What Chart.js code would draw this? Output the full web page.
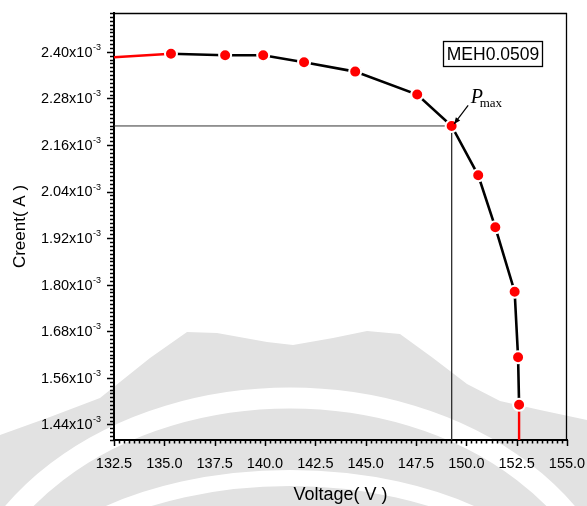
<!DOCTYPE html>
<html>
<head>
<meta charset="utf-8">
<script src="https://cdn.jsdelivr.net/npm/chart.js@4.4.0/dist/chart.umd.min.js"></script>
<style>
  html, body { margin: 0; padding: 0; background: #fff; }
  #wrap { width: 587px; height: 506px; }
</style>
</head>
<body>
<div id="wrap"><canvas id="c"></canvas></div>
<script>
// measured I-V points (current in units of 10^-3 A)
const voltage = [135.33, 138.02, 139.91, 141.94, 144.48, 147.56, 149.27, 150.59, 151.44, 152.40, 152.57, 152.62];
const current = [2.395, 2.391, 2.391, 2.373, 2.349, 2.290, 2.209, 2.082, 1.948, 1.782, 1.613, 1.491];

// red fitted ends of the curve
const fitLeftV = [132.5, 135.33];
const fitLeftI = [2.386, 2.395];
const fitTailV = [152.62, 152.62];
const fitTailI = [1.491, 1.40];

// maximum power point
const pmaxV = 149.27;
const pmaxI = 2.209;

const xTicks = [132.5, 135.0, 137.5, 140.0, 142.5, 145.0, 147.5, 150.0, 152.5, 155.0];
const yTicks = [1.44, 1.56, 1.68, 1.80, 1.92, 2.04, 2.16, 2.28, 2.40];
const xMin = 132.5, xMax = 155.0, yMin = 1.40, yMax = 2.50;
const sampleName = 'MEH0.0509';

const pts = (xs, ys) => xs.map((x, i) => ({ x, y: ys[i] }));
const SANS = '"Liberation Sans", Arial, sans-serif';
const SERIF = '"Liberation Serif", "Times New Roman", serif';

// faint grey watermark behind the figure
const watermark = {
  id: 'watermark',
  beforeDraw(chart) {
    const ctx = chart.ctx;
    ctx.save();
    ctx.fillStyle = '#e2e2e2';
    ctx.beginPath();
    const edge = [[0,435],[50,417],[100,398],[150,358],[187,332],[217,333],[267,342],[293,345],
                  [333,338],[367,331],[400,334],[433,358],[467,384],[500,401],[540,410],[587,420]];
    ctx.moveTo(edge[0][0], edge[0][1]);
    edge.forEach(p => ctx.lineTo(p[0], p[1]));
    ctx.lineTo(587, 506); ctx.lineTo(0, 506); ctx.closePath();
    ctx.fill();
    ctx.strokeStyle = '#ffffff';
    ctx.lineWidth = 21;
    ctx.beginPath();
    ctx.ellipse(290, 650, 330, 252, 0, Math.PI, 2 * Math.PI);
    ctx.stroke();
    ctx.lineWidth = 16;
    ctx.beginPath();
    ctx.ellipse(290, 640, 290, 162, 0, Math.PI, 2 * Math.PI);
    ctx.stroke();
    ctx.restore();
  }
};

// ticks, frame, y labels with superscript, annotations
const decor = {
  id: 'decor',
  afterDraw(chart) {
    const ctx = chart.ctx;
    const xs = chart.scales.x, ys = chart.scales.y;
    const a = chart.chartArea;
    ctx.save();
    ctx.strokeStyle = '#000';
    ctx.lineWidth = 1.3;
    // frame top / right
    ctx.beginPath();
    ctx.moveTo(a.left, a.top + 0.5); ctx.lineTo(a.right, a.top + 0.5);
    ctx.moveTo(a.right - 0.5, a.top); ctx.lineTo(a.right - 0.5, a.bottom);
    ctx.stroke();
    // x ticks
    ctx.lineWidth = 1.5;
    ctx.beginPath();
    for (let k = 0; k <= 90; k++) {
      const v = xMin + k * 0.25;
      const px = Math.round(xs.getPixelForValue(v)) + 0.5;
      const len = k % 10 === 0 ? 6 : 3.5;
      ctx.moveTo(px, a.bottom); ctx.lineTo(px, a.bottom + len);
    }
    // y ticks
    for (let k = 0; k <= 110; k++) {
      const v = yMin + k * 0.01;
      const py = Math.round(ys.getPixelForValue(v)) + 0.5;
      const len = (k - 4) % 12 === 0 ? 7 : 4;
      ctx.moveTo(a.left, py); ctx.lineTo(a.left - len, py);
    }
    ctx.stroke();
    // y labels
    ctx.fillStyle = '#000';
    ctx.textBaseline = 'middle';
    ctx.textAlign = 'left';
    yTicks.forEach(v => {
      const py = ys.getPixelForValue(v);
      ctx.font = '9px ' + SANS;
      const sup = '-3';
      const sw = ctx.measureText(sup).width;
      ctx.font = '14.5px ' + SANS;
      const main = v.toFixed(2) + 'x10';
      const mw = ctx.measureText(main).width;
      const right = 101;
      ctx.fillText(main, right - sw - mw - 0.5, py + 0.8);
      ctx.font = '9px ' + SANS;
      ctx.fillText(sup, right - sw, py - 4.5);
    });
    // sample box
    const bx = a.right - 124, by = a.top + 28, bw = 99, bh = 25;
    ctx.lineWidth = 1.3;
    ctx.strokeRect(bx + 0.5, by + 0.5, bw, bh);
    ctx.font = '17.5px ' + SANS;
    ctx.textAlign = 'center';
    ctx.fillText(sampleName, bx + bw / 2 + 0.5, by + bh / 2 + 1.5);
    // Pmax arrow + label
    const px = xs.getPixelForValue(pmaxV), py = ys.getPixelForValue(pmaxI);
    const sx = px + 16.5, sy = py - 20.5, ex = px + 2.5, ey = py - 2;
    ctx.lineWidth = 1.2;
    ctx.beginPath(); ctx.moveTo(sx, sy); ctx.lineTo(ex, ey); ctx.stroke();
    const ang = Math.atan2(ey - sy, ex - sx);
    ctx.beginPath();
    ctx.moveTo(ex, ey);
    ctx.lineTo(ex - 7 * Math.cos(ang - 0.4), ey - 7 * Math.sin(ang - 0.4));
    ctx.lineTo(ex - 7 * Math.cos(ang + 0.4), ey - 7 * Math.sin(ang + 0.4));
    ctx.closePath(); ctx.fill();
    ctx.textAlign = 'left';
    ctx.textBaseline = 'alphabetic';
    ctx.font = 'italic 20px ' + SERIF;
    ctx.fillText('P', px + 19, py - 23);
    ctx.font = '13px ' + SERIF;
    ctx.fillText('max', px + 28, py - 18.5);
    ctx.restore();
  }
};

new Chart(document.getElementById('c'), {
  type: 'scatter',
  data: {
    datasets: [
      {
        data: pts(voltage, current),
        showLine: true,
        borderColor: '#000',
        borderWidth: 2.6,
        pointRadius: 6,
        pointBorderWidth: 2,
        pointBackgroundColor: '#ff0000',
        pointBorderColor: '#ffffff',
        tension: 0
      },
      {
        data: pts(fitLeftV, fitLeftI),
        showLine: true, borderColor: '#ff0000', borderWidth: 2.4, pointRadius: 0
      },
      {
        data: pts(fitTailV, fitTailI),
        showLine: true, borderColor: '#ff0000', borderWidth: 2.4, pointRadius: 0
      },
      {
        data: [{ x: xMin, y: pmaxI }, { x: pmaxV, y: pmaxI }, { x: pmaxV, y: yMin }],
        showLine: true, borderColor: '#333', borderWidth: 1, pointRadius: 0
      }
    ]
  },
  options: {
    responsive: true,
    maintainAspectRatio: false,
    animation: false,
    layout: { padding: { top: 13, right: 20, left: 0, bottom: 0 } },
    plugins: { legend: { display: false }, tooltip: { enabled: false } },
    scales: {
      x: {
        type: 'linear', min: xMin, max: xMax,
        afterBuildTicks: s => { s.ticks = xTicks.map(v => ({ value: v })); },
        afterFit: s => { s.height = 66; s.paddingLeft = 0; s.paddingRight = 0; },
        grid: { display: false, drawTicks: false },
        border: { display: true, color: '#000', width: 2 },
        ticks: {
          autoSkip: false, maxRotation: 0, padding: 15, color: '#000',
          font: { family: SANS, size: 14.5 },
          callback: v => Number(v).toFixed(1)
        },
        title: {
          display: true, text: 'Voltage( V )', color: '#000',
          font: { family: SANS, size: 18 }, padding: { top: 0, bottom: 0 }
        }
      },
      y: {
        type: 'linear', min: yMin, max: yMax,
        afterBuildTicks: s => { s.ticks = yTicks.map(v => ({ value: v })); },
        afterFit: s => { s.width = 114; s.paddingTop = 0; s.paddingBottom = 0; },
        grid: { display: false, drawTicks: false },
        border: { display: true, color: '#000', width: 2 },
        ticks: { display: false },
        title: {
          display: true, text: 'Creent( A )', color: '#000',
          font: { family: SANS, size: 17 }, padding: { top: 10, bottom: 0 }
        }
      }
    }
  },
  plugins: [watermark, decor]
});
</script>
</body>
</html>
